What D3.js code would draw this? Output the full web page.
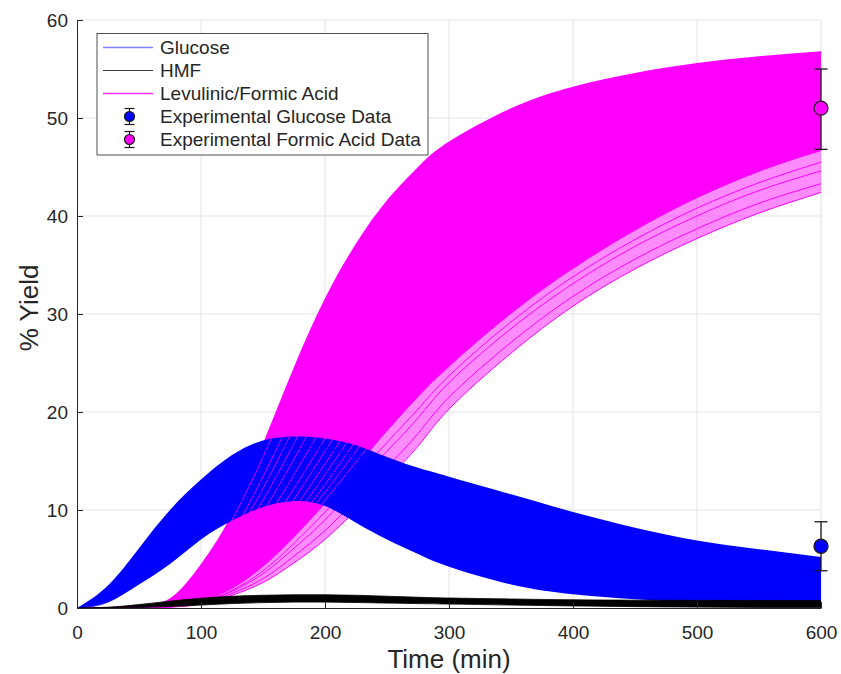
<!DOCTYPE html>
<html>
<head>
<meta charset="utf-8">
<script src="https://cdn.jsdelivr.net/npm/d3@7"></script>
<style>
  body { margin: 0; background: #fff; }
  svg { display: block; }
  text { font-family: "Liberation Sans", Arial, Helvetica, sans-serif; fill: #262626; }
</style>
</head>
<body>
<svg id="chart" width="841" height="674"></svg>
<script>
// time grid (min) the curves are read at
var times = [0, 25, 50, 75, 100, 125, 150, 175, 200, 225, 250, 275, 300, 350, 400, 450, 500, 550, 600];

// glucose ensemble: outer envelope + a few runs
var glucoseUpper = [0, 2.3, 6.1, 10.0, 13.1, 15.6, 17.1, 17.5, 17.3, 16.6, 15.4, 14.3, 13.4, 11.6, 9.8, 8.2, 6.9, 6.0, 5.2];
var glucoseLower = [0, 0.6, 2.4, 4.5, 7.0, 8.9, 10.3, 10.9, 10.4, 8.7, 7.0, 5.5, 4.2, 2.4, 1.4, 0.9, 0.6, 0.4, 0.3];
var glucoseRuns = [
  [0, 1.6, 5.2, 9.2, 12.4, 14.9, 16.4, 16.9, 16.5, 15.3, 13.5, 11.7, 10.0, 7.3, 5.2, 3.7, 2.6, 1.9, 1.4],
  [0, 1.0, 3.9, 7.6, 10.9, 13.6, 15.4, 16.2, 16.2, 15.6, 14.5, 13.3, 12.2, 10.0, 8.1, 6.5, 5.2, 4.2, 3.4],
  [0, 0.7, 2.9, 6.0, 9.0, 11.4, 13.0, 13.8, 13.9, 13.5, 12.8, 12.0, 11.3, 9.8, 8.4, 7.1, 6.0, 5.1, 4.4],
  [0, 1.3, 4.6, 8.5, 11.8, 14.4, 16.0, 16.6, 16.4, 15.5, 14.0, 12.4, 10.9, 8.3, 6.2, 4.6, 3.4, 2.5, 1.9],
  [0, 0.6, 2.7, 5.3, 8.2, 10.4, 11.9, 12.6, 12.6, 12.0, 11.2, 10.3, 9.5, 8.0, 6.7, 5.6, 4.7, 3.9, 3.3]
];

// HMF ensemble envelope
var hmfUpper = [0, 0.08, 0.35, 0.7, 1.0, 1.2, 1.3, 1.35, 1.35, 1.3, 1.2, 1.1, 1.02, 0.92, 0.84, 0.8, 0.78, 0.77, 0.76];
var hmfLower = [0, 0, 0.05, 0.15, 0.3, 0.45, 0.55, 0.6, 0.6, 0.56, 0.5, 0.45, 0.4, 0.3, 0.21, 0.14, 0.09, 0.06, 0.04];

// levulinic / formic acid ensemble
var levUpper = [0, 0, 0.2, 1.0, 4.5, 9.6, 16.8, 24.6, 31.6, 37.2, 41.6, 45.0, 47.6, 51.0, 53.2, 54.6, 55.6, 56.3, 56.8];
var levDense = [0, 0, 0, 0.15, 0.7, 2.0, 4.2, 7.2, 10.6, 14.3, 18.0, 21.5, 24.6, 30.0, 34.6, 38.5, 41.8, 44.5, 46.6];
var levLower = [0, 0, 0, 0.1, 0.4, 1.3, 2.6, 4.6, 7.0, 10.0, 13.2, 16.5, 20.3, 26.0, 30.8, 34.6, 37.7, 40.3, 42.4];
var levSparse = [
  [0, 0, 0, 0.1, 0.45, 1.5, 3.0, 5.3, 7.9, 11.1, 14.4, 17.8, 21.5, 27.1, 31.8, 35.6, 38.7, 41.3, 43.3],
  [0, 0, 0, 0.12, 0.55, 1.7, 3.5, 6.1, 9.0, 12.5, 16.0, 19.4, 23.0, 28.5, 33.1, 36.9, 40.0, 42.6, 44.6],
  [0, 0, 0, 0.12, 0.6, 1.8, 3.8, 6.6, 9.8, 13.3, 16.9, 20.3, 23.7, 29.2, 33.8, 37.6, 40.8, 43.4, 45.5]
];
var levRuns = [
  [0, 0, 0.15, 0.8, 4.0, 9.0, 15.4, 22.4, 29.0, 35.0, 40.0, 43.6, 46.4, 50.4, 52.6, 54.1, 55.2, 56.0, 56.5],
  [0, 0, 0.1, 0.7, 3.2, 7.6, 13.4, 20.0, 26.6, 32.4, 37.2, 41.0, 44.0, 48.3, 51.0, 52.7, 53.9, 54.8, 55.5],
  [0, 0, 0.1, 0.6, 2.8, 6.8, 12.2, 18.4, 24.6, 30.4, 35.4, 39.4, 42.6, 47.3, 50.3, 52.3, 53.7, 54.7, 55.4],
  [0, 0, 0.05, 0.5, 2.4, 6.0, 11.0, 16.8, 22.8, 28.4, 33.4, 37.6, 41.1, 46.2, 49.6, 51.8, 53.3, 54.4, 55.2],
  [0, 0, 0.05, 0.45, 2.0, 5.2, 9.8, 15.2, 20.9, 26.4, 31.4, 35.7, 39.3, 44.8, 48.5, 51.0, 52.7, 53.9, 54.8],
  [0, 0, 0, 0.35, 1.7, 4.5, 8.6, 13.6, 19.0, 24.4, 29.4, 33.8, 37.6, 43.5, 47.5, 50.2, 52.0, 53.3, 54.3],
  [0, 0, 0, 0.3, 1.45, 3.9, 7.6, 12.2, 17.3, 22.5, 27.5, 31.9, 35.8, 42.0, 46.3, 49.3, 51.3, 52.8, 53.9],
  [0, 0, 0, 0.25, 1.2, 3.4, 6.8, 11.1, 16.0, 21.0, 25.9, 30.3, 34.3, 40.7, 45.3, 48.5, 50.8, 52.4, 53.6],
  [0, 0, 0, 0.22, 1.05, 3.0, 6.1, 10.1, 14.7, 19.5, 24.3, 28.7, 32.7, 39.2, 44.0, 47.5, 50.0, 51.8, 53.0],
  [0, 0, 0, 0.2, 0.9, 2.6, 5.4, 9.2, 13.6, 18.3, 23.0, 27.4, 31.4, 38.0, 43.0, 46.6, 49.3, 51.2, 52.6],
  [0, 0, 0, 0.18, 0.8, 2.4, 5.0, 8.5, 12.6, 17.1, 21.6, 25.9, 29.8, 36.4, 41.5, 45.2, 48.1, 50.2, 51.7],
  [0, 0, 0, 0.15, 0.75, 2.2, 4.6, 7.9, 11.8, 16.0, 20.3, 24.4, 28.2, 34.8, 39.9, 43.8, 46.8, 49.0, 50.7],
  [0, 0, 0, 0.15, 0.7, 2.0, 4.3, 7.4, 11.0, 14.9, 18.8, 22.5, 25.9, 31.8, 36.6, 40.4, 43.5, 46.0, 48.0]
];

// experimental points: time, mean, lower, upper
var expGlucose = [600, 6.3, 3.8, 8.8];
var expFormic = [600, 51.0, 46.8, 55.0];

var xTicks = [0, 100, 200, 300, 400, 500, 600];
var yTicks = [0, 10, 20, 30, 40, 50, 60];

var legendItems = ["Glucose", "HMF", "Levulinic/Formic Acid", "Experimental Glucose Data", "Experimental Formic Acid Data"];

var BLUE = "#0000ff", MAG = "#ff00ff", INK = "#262626";

var svg = d3.select("#chart");
var x = d3.scaleLinear().domain([0, 600]).range([77, 821]);
var y = d3.scaleLinear().domain([0, 60]).range([608, 20]);

// grid
var grid = svg.append("g").attr("stroke", "#e3e3e3").attr("stroke-width", 1);
grid.selectAll(".gx").data(xTicks.slice(1)).enter().append("line")
  .attr("x1", d => x(d)).attr("x2", d => x(d)).attr("y1", y(0)).attr("y2", y(60));
grid.selectAll(".gy").data(yTicks.slice(1)).enter().append("line")
  .attr("x1", x(0)).attr("x2", x(600)).attr("y1", d => y(d)).attr("y2", d => y(d));

svg.append("clipPath").attr("id", "plot").append("rect")
  .attr("x", 77).attr("y", 20).attr("width", 744).attr("height", 588);
var plot = svg.append("g").attr("clip-path", "url(#plot)");

var smooth = d3.curveNatural;
function band(lo, hi) {
  return d3.area()
    .x((d, i) => x(times[i]))
    .y0((d, i) => y(lo[i]))
    .y1((d, i) => y(hi[i]))
    .curve(smooth)(times);
}
var line = d3.line()
  .x((d, i) => x(times[i]))
  .y(d => y(d))
  .curve(smooth);

// levulinic: sparse lower group, then dense band
plot.append("path").attr("d", band(levLower, levDense)).attr("fill", MAG).attr("fill-opacity", 0.45);
plot.selectAll(".ls").data([levLower].concat(levSparse)).enter().append("path")
  .attr("d", line).attr("fill", "none").attr("stroke", MAG).attr("stroke-width", 1);
plot.append("path").attr("d", band(levDense, levUpper)).attr("fill", MAG);

// glucose band
plot.append("path").attr("d", band(glucoseLower, glucoseUpper)).attr("fill", BLUE);

// runs crossing each other
plot.selectAll(".lr").data(levRuns).enter().append("path")
  .attr("d", line).attr("fill", "none").attr("stroke", MAG).attr("stroke-width", 0.8);
plot.selectAll(".gr").data(glucoseRuns).enter().append("path")
  .attr("d", line).attr("fill", "none").attr("stroke", BLUE).attr("stroke-width", 0.8);

// HMF band
plot.append("path").attr("d", band(hmfLower, hmfUpper)).attr("fill", "#000")
  .attr("stroke", "#000").attr("stroke-width", 0.8);

// axes
var xAxis = d3.axisBottom(x).tickValues(xTicks).tickSizeInner(-6).tickSizeOuter(0).tickPadding(18);
var yAxis = d3.axisLeft(y).tickValues(yTicks).tickSizeInner(-6).tickSizeOuter(0).tickPadding(9);
var gx = svg.append("g").attr("transform", "translate(0,608)").call(xAxis);
var gy = svg.append("g").attr("transform", "translate(77,0)").call(yAxis);
[gx, gy].forEach(g => {
  g.selectAll("path, line").attr("stroke", INK);
  g.selectAll("text").attr("fill", INK).style("font-size", "19px")
    .style("font-family", "'Liberation Sans', Arial, sans-serif");
});

svg.append("text").attr("x", 449).attr("y", 668).attr("text-anchor", "middle")
  .style("font-size", "26px").text("Time (min)");
svg.append("text").attr("transform", "translate(38,308) rotate(-90)").attr("text-anchor", "middle")
  .style("font-size", "26px").text("% Yield");

// experimental points
function errPoint(p, fill) {
  var g = svg.append("g").attr("stroke", "#1a1a1a").attr("stroke-width", 1.3);
  g.append("line").attr("x1", x(p[0])).attr("x2", x(p[0])).attr("y1", y(p[2])).attr("y2", y(p[3]));
  [p[2], p[3]].forEach(v => g.append("line")
    .attr("x1", x(p[0]) - 6.5).attr("x2", x(p[0]) + 6.5).attr("y1", y(v)).attr("y2", y(v)));
  g.append("circle").attr("cx", x(p[0])).attr("cy", y(p[1])).attr("r", 7).attr("fill", fill);
}
errPoint(expGlucose, BLUE);
errPoint(expFormic, MAG);

// legend
var lg = svg.append("g");
lg.append("rect").attr("x", 97).attr("y", 33.5).attr("width", 331).attr("height", 121.5)
  .attr("fill", "#fff").attr("stroke", INK).attr("stroke-width", 0.8);
var rowY = d3.scalePoint().domain(legendItems).range([47.5, 139.5]);
var swatch = [
  {c: "#7f7fff", w: 1.6}, {c: "#3a3a3a", w: 1.1}, {c: "#ff33ff", w: 1.4}
];
legendItems.forEach((name, i) => {
  var yy = rowY(name);
  if (i < 3) {
    lg.append("line").attr("x1", 103).attr("x2", 153).attr("y1", yy).attr("y2", yy)
      .style("stroke", swatch[i].c).style("stroke-width", swatch[i].w);
  } else {
    var mg = lg.append("g").attr("stroke", "#1a1a1a").attr("stroke-width", 1.2);
    mg.append("line").attr("x1", 129.5).attr("x2", 129.5).attr("y1", yy - 8).attr("y2", yy + 8);
    [yy - 8, yy + 8].forEach(v => mg.append("line").attr("x1", 124.5).attr("x2", 134.5).attr("y1", v).attr("y2", v));
    mg.append("circle").attr("cx", 129.5).attr("cy", yy).attr("r", 5).attr("fill", i === 3 ? BLUE : MAG);
  }
  lg.append("text").attr("x", 160).attr("y", yy).attr("dy", "0.35em")
    .style("font-size", "19px").text(name);
});
</script>
</body>
</html>
